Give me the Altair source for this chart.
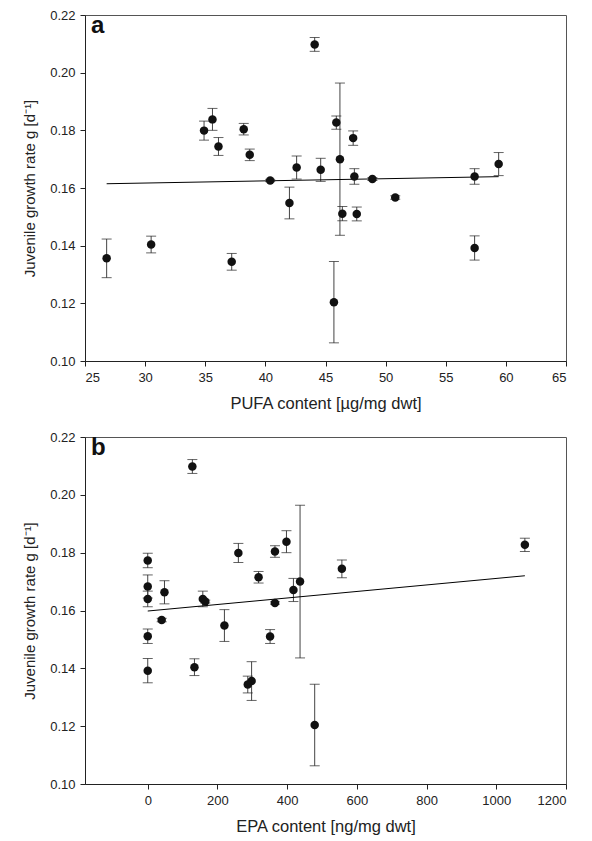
import altair as alt
import pandas as pd

# PUFA content [µg/mg dwt], EPA content [ng/mg dwt], growth rate g [d-1], SD
pufa = [26.8, 30.5, 34.9, 35.6, 36.1, 37.2, 38.2, 38.7, 40.4, 42.0, 42.6, 44.1, 44.6,
        45.7, 45.9, 46.2, 46.4, 47.3, 47.4, 47.6, 48.9, 50.8, 57.4, 57.4, 59.4]
epa = [298, 134, 260, 398, 557, 287, 365, 318, 365, 220, 418, 128, 48,
       479, 1082, 437, 0, 0, 158, 351, 165, 40, 0, 0, 0]
growth = [0.1356, 0.1404, 0.1799, 0.1838, 0.1744, 0.1344, 0.1804, 0.1715, 0.1626,
          0.1548, 0.1671, 0.2098, 0.1663, 0.1204, 0.1827, 0.1700, 0.1511, 0.1773,
          0.1640, 0.1510, 0.1631, 0.1567, 0.1640, 0.1392, 0.1683]
sd = [0.0067, 0.0029, 0.0033, 0.0038, 0.0031, 0.0029, 0.0020, 0.0020, 0.0004,
      0.0055, 0.0040, 0.0024, 0.0040, 0.0141, 0.0023, 0.0264, 0.0025, 0.0025,
      0.0027, 0.0024, 0.0005, 0.0006, 0.0027, 0.0042, 0.0040]

y_ticks = [0.10, 0.12, 0.14, 0.16, 0.18, 0.20, 0.22]
pufa_ticks = [25, 30, 35, 40, 45, 50, 55, 60, 65]
epa_ticks = [0, 200, 400, 600, 800, 1000, 1200]

df = pd.DataFrame({"pufa": pufa, "epa": epa, "growth": growth, "sd": sd})
df["lo"] = df["growth"] - df["sd"]
df["hi"] = df["growth"] + df["sd"]

Y_TITLE = "Juvenile growth rate g [d\u207b\u00b9]"
yscale = alt.Scale(domain=[0.10, 0.22], nice=False, zero=False)
yaxis = alt.Axis(values=y_ticks, format=".2f", title=Y_TITLE, titleFontSize=15)


def panel(field, title, domain, ticks, letter, h):
    base = alt.Chart(df)
    x = alt.X(f"{field}:Q", scale=alt.Scale(domain=domain, nice=False, zero=False),
              axis=alt.Axis(values=ticks, title=title, format="d", titleFontSize=16.5,
                            titlePadding=11))
    rules = base.mark_rule(color="#444", strokeWidth=1).encode(
        x=x, y=alt.Y("lo:Q", scale=yscale, axis=yaxis), y2="hi:Q")
    cap_lo = base.mark_tick(orient="horizontal", size=10, thickness=1, color="#222").encode(
        x=x, y=alt.Y("lo:Q", scale=yscale, axis=yaxis))
    cap_hi = base.mark_tick(orient="horizontal", size=10, thickness=1, color="#222").encode(
        x=x, y=alt.Y("hi:Q", scale=yscale, axis=yaxis))
    line = base.transform_regression(field, "growth").mark_line(
        color="#000", strokeWidth=1).encode(
        x=x, y=alt.Y("growth:Q", scale=yscale, axis=yaxis))
    pts = base.mark_circle(size=72, color="#111", opacity=1).encode(
        x=x, y=alt.Y("growth:Q", scale=yscale, axis=yaxis))
    lab = alt.Chart(pd.DataFrame({"t": [letter]})).mark_text(
        fontSize=24, fontWeight="bold", align="left", baseline="alphabetic",
        font="Liberation Sans", color="#111").encode(
        text="t:N", x=alt.value(6), y=alt.value(18))
    return alt.layer(rules, cap_lo, cap_hi, line, pts, lab).properties(width=481, height=h)


pa = panel("pufa", "PUFA content [\u00b5g/mg dwt]", [25, 65], pufa_ticks, "a", 346)
pb = panel("epa", "EPA content [ng/mg dwt]", [-180, 1200], epa_ticks, "b", 347)

chart = alt.vconcat(pa, pb, spacing=18).properties(
    padding={"left": 14, "top": 0, "right": 5, "bottom": 5}
).configure_axis(
    labelFont="Liberation Sans", titleFont="Liberation Sans",
    labelFontSize=13, titleFontWeight="normal",
    labelColor="#222", titleColor="#222", domainColor="#222", tickColor="#222",
    tickSize=5, labelPadding=5, grid=False, titlePadding=12
).configure_view(stroke="#555", strokeWidth=1)

chart.save("out.html", embed_options={"renderer": "svg", "actions": False})
